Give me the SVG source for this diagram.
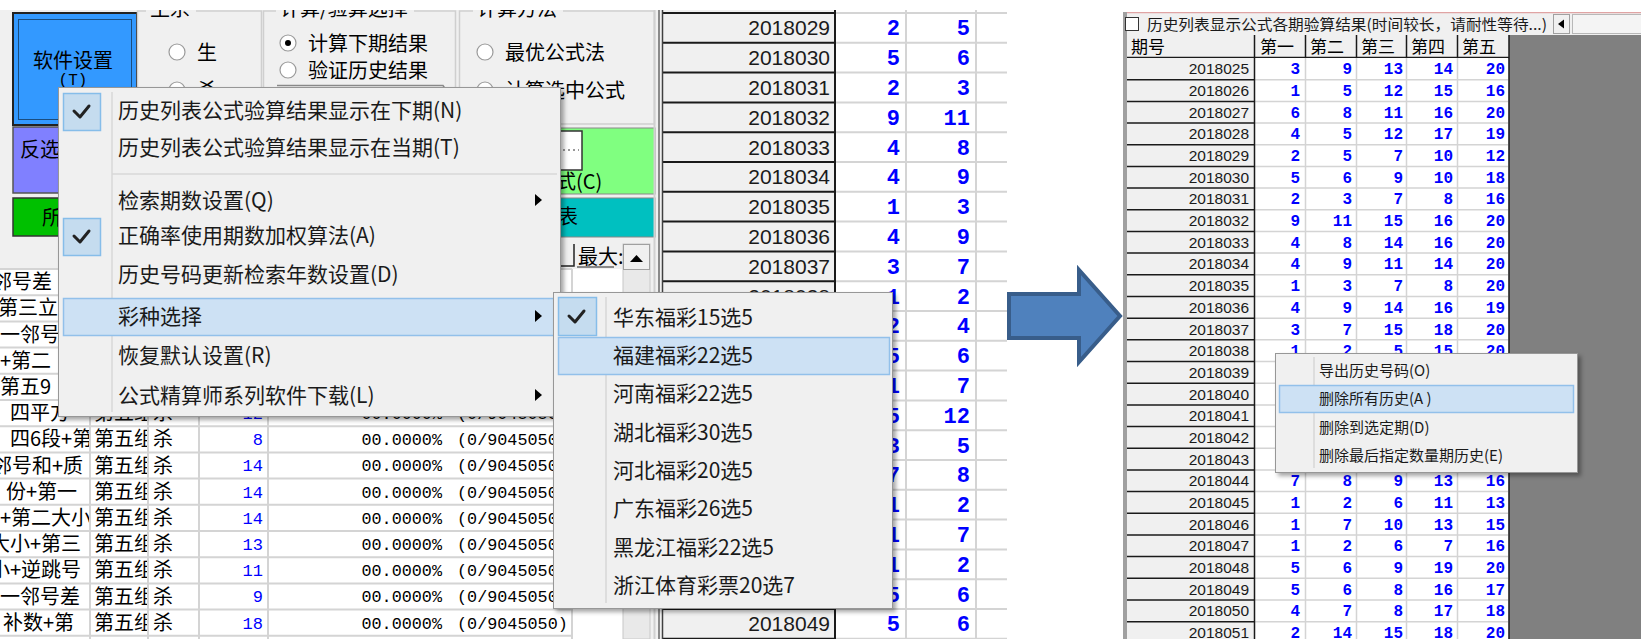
<svg xmlns="http://www.w3.org/2000/svg" width="1641" height="639" viewBox="0 0 1641 639">
<style>
.mi{font-family:"Noto Sans CJK SC","Noto Sans",sans-serif;font-size:21px;fill:#1a1a1a;}
.lt{font-family:"Noto Sans CJK SC","Noto Sans",sans-serif;font-size:20px;fill:#000;}
.cm{font-family:"Noto Sans CJK SC","Noto Sans",sans-serif;font-size:15px;fill:#1a1a1a;}
.hd{font-family:"Noto Sans CJK SC","Noto Sans",sans-serif;font-size:17px;fill:#000;}
.mono{font-family:"Liberation Mono",monospace;font-size:16.8px;fill:#000;}
.bn{font-family:"Liberation Mono",monospace;font-size:17px;fill:#0000ff;text-anchor:end;}
.id1{font-family:"Liberation Sans",sans-serif;font-size:21px;fill:#1a1a1a;text-anchor:end;}
.n1{font-family:"Liberation Mono",monospace;font-weight:bold;font-size:22px;fill:#0000ff;text-anchor:end;}
.id2{font-family:"Liberation Sans",sans-serif;font-size:15.5px;fill:#1a1a1a;text-anchor:end;}
.n2{font-family:"Liberation Mono",monospace;font-weight:bold;font-size:16px;fill:#0000ff;text-anchor:end;}
.grid{stroke:#d4d4d4;stroke-width:2;fill:none;}
.grid2{stroke:#d4d4d4;stroke-width:1.5;fill:none;}
.blk{stroke:#1a1a1a;stroke-width:2;fill:none;}
.menu{fill:#f0f0f0;stroke:#979797;stroke-width:1;}
.hl{fill:#cde1f4;stroke:#92c0ea;stroke-width:1.5;}
.chk{fill:#c5dcef;stroke:#86bde9;stroke-width:1.5;}
.tick{fill:none;stroke:#222;stroke-width:3;stroke-linecap:round;stroke-linejoin:round;}
.sep{stroke:#d7d7d7;stroke-width:1.5;}
.radio{fill:#fff;stroke:#9a9a9a;stroke-width:1.2;}
.gb{fill:none;stroke:#cfcfcf;stroke-width:1.5;}
.tri{fill:#000;}
</style>
<defs>
<filter id="sh" x="-5%" y="-5%" width="115%" height="115%"><feDropShadow dx="3" dy="3" stdDeviation="2" flood-color="#000" flood-opacity="0.35"/></filter>
<clipPath id="lp"><rect x="0" y="10" width="1007" height="629"/></clipPath>
<clipPath id="rp"><rect x="1123" y="12" width="518" height="627"/></clipPath>
<clipPath id="c1"><rect x="0" y="269" width="89" height="370"/></clipPath>
<clipPath id="c2"><rect x="91" y="269" width="56" height="370"/></clipPath>
</defs>
<rect width="1641" height="639" fill="#fff"/>

<g id="left-panel" clip-path="url(#lp)">
  <rect x="0" y="10" width="1007" height="629" fill="#f0f0f0"/>
  <g id="btn-settings">
    <rect x="13" y="13" width="124" height="112" fill="#3399ff" stroke="#222" stroke-width="2"/>
    <rect x="18.5" y="19.5" width="113" height="100" fill="none" stroke="#000" stroke-width="1" stroke-dasharray="1 1"/>
    <text class="lt" x="73" y="68" text-anchor="middle" font-size="21">软件设置</text>
    <text x="73" y="85" text-anchor="middle" style="font-family:'Liberation Mono',monospace;font-size:16px;fill:#000">(T)</text>
  </g>
  <g id="btn-invert">
    <rect x="13" y="127" width="70" height="66" fill="#8080ff" stroke="#555" stroke-width="1.5"/>
    <text class="lt" x="20" y="157">反选</text>
  </g>
  <g id="btn-all">
    <rect x="13" y="198" width="70" height="38" fill="#00c000" stroke="#333" stroke-width="1.5"/>
    <text class="lt" x="42" y="225">所</text>
  </g>
  <g id="group-shengsha">
    <rect class="gb" x="137.5" y="11" width="124" height="120"/>
    <rect x="146" y="4" width="50" height="10" fill="#f0f0f0"/>
    <text class="lt" x="150" y="16">生杀</text>
    <circle class="radio" cx="177" cy="52" r="8"/>
    <text class="lt" x="197" y="59.5">生</text>
    <circle class="radio" cx="177" cy="90" r="8"/>
    <text class="lt" x="197" y="97.5">杀</text>
  </g>
  <g id="group-calc-select">
    <rect class="gb" x="263.5" y="11" width="192" height="113"/>
    <rect x="276" y="4" width="138" height="10" fill="#f0f0f0"/>
    <text class="lt" x="280" y="16">计算/验算选择</text>
    <circle class="radio" cx="288" cy="43" r="8"/>
    <circle cx="288" cy="43" r="3" fill="#000"/>
    <text class="lt" x="308" y="50.5">计算下期结果</text>
    <circle class="radio" cx="288" cy="70" r="8"/>
    <text class="lt" x="308" y="77.5">验证历史结果</text>
    <path d="M277 85.5H443 l2 3" stroke="#8a8a8a" stroke-width="1.5" fill="none"/>
  </g>
  <g id="group-calc-method">
    <rect class="gb" x="459.5" y="11" width="195" height="113"/>
    <rect x="473" y="4" width="90" height="10" fill="#f0f0f0"/>
    <text class="lt" x="477" y="16">计算方法</text>
    <circle class="radio" cx="485" cy="52" r="8"/>
    <text class="lt" x="505" y="59.5">最优公式法</text>
    <circle class="radio" cx="485" cy="90" r="8"/>
    <text class="lt" x="505" y="97.5">计算选中公式</text>
  </g>
  <g id="btn-formula">
    <rect x="520" y="128" width="135" height="66" fill="#80ff80" stroke="#888" stroke-width="1"/>
    <rect x="540" y="131" width="42" height="39" fill="#fff" stroke="#333" stroke-width="1.5"/>
    <path d="M563 150H579" stroke="#333" stroke-width="1" stroke-dasharray="2 3"/>
    <text class="lt" x="556" y="189">式(C)</text>
  </g>
  <g id="btn-table">
    <rect x="520" y="198" width="135" height="39" fill="#00c0c0" stroke="#888" stroke-width="1"/>
    <text class="lt" x="558" y="224">表</text>
  </g>

  <g id="formula-table">
    <rect x="0" y="244" width="623" height="25" fill="#f0f0f0"/>
    <path d="M560 266H574V244" stroke="#222" stroke-width="1.5" fill="none"/>
    <text class="lt" x="578" y="264" font-size="19">最大:</text>
    <path d="M577 267H614" stroke="#222" stroke-width="1"/>
    <rect x="0" y="269" width="623" height="370" fill="#fff"/>
    <path class="grid" d="M0 269H572M0 295.2H572M0 321.4H572M0 347.6H572M0 373.8H572M0 400H572M0 426.2H572M0 452.4H572M0 478.6H572M0 504.8H572M0 531H572M0 557.2H572M0 583.4H572M0 609.6H572M0 635.8H572M90 269V639M148 269V639M199 269V639M268 269V639M572 269V639"/>
    <rect x="623" y="244" width="27" height="395" fill="#e9e9e9" stroke="#c8c8c8"/>
    <rect x="623.5" y="244.5" width="26" height="25" fill="#f0f0f0" stroke="#a0a0a0"/>
    <polygon class="tri" points="630,262 643,262 636.5,255"/>
    <g clip-path="url(#c1)">
      <text class="lt" x="-8" y="289.1">邻号差</text>
      <text class="lt" x="-2" y="315.3">第三立</text>
      <text class="lt" x="0" y="341.5">一邻号</text>
      <text class="lt" x="0" y="367.7">+第二</text>
      <text class="lt" x="0" y="393.9">第五9</text>
      <text class="lt" x="10" y="420.1">四平方</text>
      <text class="lt" x="10" y="446.3">四6段+第</text>
      <text class="lt" x="-8" y="472.5">邻号和+质</text>
      <text class="lt" x="6" y="498.7">份+第一</text>
      <text class="lt" x="0" y="524.9">+第二大小</text>
      <text class="lt" x="-10" y="551.1">大小+第三</text>
      <text class="lt" x="-10" y="577.3">小+逆跳号</text>
      <text class="lt" x="0" y="603.5">一邻号差</text>
      <text class="lt" x="3" y="629.7">补数+第</text>
    </g>
    <g clip-path="url(#c2)">
      <text class="lt"><tspan x="94" y="420.1">第五组</tspan><tspan x="94" y="446.3">第五组</tspan><tspan x="94" y="472.5">第五组</tspan><tspan x="94" y="498.7">第五组</tspan><tspan x="94" y="524.9">第五组</tspan><tspan x="94" y="551.1">第五组</tspan><tspan x="94" y="577.3">第五组</tspan><tspan x="94" y="603.5">第五组</tspan><tspan x="94" y="629.7">第五组</tspan></text>
    </g>
    <text class="lt"><tspan x="153" y="420.1">杀</tspan><tspan x="153" y="446.3">杀</tspan><tspan x="153" y="472.5">杀</tspan><tspan x="153" y="498.7">杀</tspan><tspan x="153" y="524.9">杀</tspan><tspan x="153" y="551.1">杀</tspan><tspan x="153" y="577.3">杀</tspan><tspan x="153" y="603.5">杀</tspan><tspan x="153" y="629.7">杀</tspan></text>
    <text class="bn"><tspan x="263" y="419">12</tspan><tspan x="263" y="445.2">8</tspan><tspan x="263" y="471.4">14</tspan><tspan x="263" y="497.6">14</tspan><tspan x="263" y="523.8">14</tspan><tspan x="263" y="550">13</tspan><tspan x="263" y="576.2">11</tspan><tspan x="263" y="602.4">9</tspan><tspan x="263" y="628.6">18</tspan></text>
    <text class="mono" text-anchor="end"><tspan x="442" y="419">00.0000%</tspan><tspan x="442" y="445.2">00.0000%</tspan><tspan x="442" y="471.4">00.0000%</tspan><tspan x="442" y="497.6">00.0000%</tspan><tspan x="442" y="523.8">00.0000%</tspan><tspan x="442" y="550">00.0000%</tspan><tspan x="442" y="576.2">00.0000%</tspan><tspan x="442" y="602.4">00.0000%</tspan><tspan x="442" y="628.6">00.0000%</tspan></text>
    <text class="mono"><tspan x="457" y="419">(0/9045050)</tspan><tspan x="457" y="445.2">(0/9045050)</tspan><tspan x="457" y="471.4">(0/9045050)</tspan><tspan x="457" y="497.6">(0/9045050)</tspan><tspan x="457" y="523.8">(0/9045050)</tspan><tspan x="457" y="550">(0/9045050)</tspan><tspan x="457" y="576.2">(0/9045050)</tspan><tspan x="457" y="602.4">(0/9045050)</tspan><tspan x="457" y="628.6">(0/9045050)</tspan></text>
  </g>

  <g id="history-table-left">
    <path d="M654.5 10V639" stroke="#d0d0d0" stroke-width="2"/>
    <path d="M659 10V639" stroke="#8a8a8a" stroke-width="2"/>
    <rect x="662" y="10" width="173" height="629" fill="#f0f0f0"/>
    <rect x="835" y="10" width="172" height="629" fill="#fff"/>
    <path class="grid" d="M835 13H1007M835 42.8H1007M835 72.6H1007M835 102.4H1007M835 132.2H1007M835 162H1007M835 191.8H1007M835 221.6H1007M835 251.4H1007M835 281.2H1007M835 311H1007M835 340.8H1007M835 370.6H1007M835 400.4H1007M835 430.2H1007M835 460H1007M835 489.8H1007M835 519.6H1007M835 549.4H1007M835 579.2H1007M835 609H1007M835 638.8H1007M906 10V639M976 10V639"/>
    <path class="blk" d="M663 13H835M663 42.8H835M663 72.6H835M663 102.4H835M663 132.2H835M663 162H835M663 191.8H835M663 221.6H835M663 251.4H835M663 281.2H835M663 311H835M663 340.8H835M663 370.6H835M663 400.4H835M663 430.2H835M663 460H835M663 489.8H835M663 519.6H835M663 549.4H835M663 579.2H835M663 609H835M663 638.8H835M835 10V639"/>
    <path d="M662.5 10V639" stroke="#404040" stroke-width="1.5"/>
    <text class="id1"><tspan x="830" y="35.4">2018029</tspan><tspan x="830" y="65.2">2018030</tspan><tspan x="830" y="95">2018031</tspan><tspan x="830" y="124.8">2018032</tspan><tspan x="830" y="154.6">2018033</tspan><tspan x="830" y="184.4">2018034</tspan><tspan x="830" y="214.2">2018035</tspan><tspan x="830" y="244">2018036</tspan><tspan x="830" y="273.8">2018037</tspan><tspan x="830" y="303.6">2018038</tspan><tspan x="830" y="333.4">2018039</tspan><tspan x="830" y="363.2">2018040</tspan><tspan x="830" y="393">2018041</tspan><tspan x="830" y="422.8">2018042</tspan><tspan x="830" y="452.6">2018043</tspan><tspan x="830" y="482.4">2018044</tspan><tspan x="830" y="512.2">2018045</tspan><tspan x="830" y="542">2018046</tspan><tspan x="830" y="571.8">2018047</tspan><tspan x="830" y="601.6">2018048</tspan><tspan x="830" y="631.4">2018049</tspan></text>
    <text class="n1"><tspan x="900" y="35.4">2</tspan><tspan x="900" y="65.2">5</tspan><tspan x="900" y="95">2</tspan><tspan x="900" y="124.8">9</tspan><tspan x="900" y="154.6">4</tspan><tspan x="900" y="184.4">4</tspan><tspan x="900" y="214.2">1</tspan><tspan x="900" y="244">4</tspan><tspan x="900" y="273.8">3</tspan><tspan x="900" y="303.6">1</tspan><tspan x="900" y="333.4">2</tspan><tspan x="900" y="363.2">5</tspan><tspan x="900" y="393">1</tspan><tspan x="900" y="422.8">5</tspan><tspan x="900" y="452.6">3</tspan><tspan x="900" y="482.4">7</tspan><tspan x="900" y="512.2">1</tspan><tspan x="900" y="542">1</tspan><tspan x="900" y="571.8">1</tspan><tspan x="900" y="601.6">5</tspan><tspan x="900" y="631.4">5</tspan></text>
    <text class="n1"><tspan x="970" y="35.4">5</tspan><tspan x="970" y="65.2">6</tspan><tspan x="970" y="95">3</tspan><tspan x="970" y="124.8">11</tspan><tspan x="970" y="154.6">8</tspan><tspan x="970" y="184.4">9</tspan><tspan x="970" y="214.2">3</tspan><tspan x="970" y="244">9</tspan><tspan x="970" y="273.8">7</tspan><tspan x="970" y="303.6">2</tspan><tspan x="970" y="333.4">4</tspan><tspan x="970" y="363.2">6</tspan><tspan x="970" y="393">7</tspan><tspan x="970" y="422.8">12</tspan><tspan x="970" y="452.6">5</tspan><tspan x="970" y="482.4">8</tspan><tspan x="970" y="512.2">2</tspan><tspan x="970" y="542">7</tspan><tspan x="970" y="571.8">2</tspan><tspan x="970" y="601.6">6</tspan><tspan x="970" y="631.4">6</tspan></text>
  </g>

  <g id="main-menu">
    <rect class="menu" x="58.5" y="87.5" width="502" height="329" filter="url(#sh)"/>
    <path class="sep" d="M112 92V412M112 174H557"/>
    <rect class="chk" x="63.5" y="93.5" width="37" height="37"/>
    <path class="tick" d="M74 111L80 117L89 106"/>
    <rect class="chk" x="63.5" y="218.5" width="37" height="37"/>
    <path class="tick" d="M74 236L80 242L89 231"/>
    <rect class="hl" x="63.5" y="298.5" width="491" height="37"/>
    <text class="mi" x="118" y="117.5">历史列表公式验算结果显示在下期(N)</text>
    <text class="mi" x="118" y="155">历史列表公式验算结果显示在当期(T)</text>
    <text class="mi" x="118" y="207.5">检索期数设置(Q)</text>
    <text class="mi" x="118" y="243">正确率使用期数加权算法(A)</text>
    <text class="mi" x="118" y="282">历史号码更新检索年数设置(D)</text>
    <text class="mi" x="118" y="324">彩种选择</text>
    <text class="mi" x="118" y="362.5">恢复默认设置(R)</text>
    <text class="mi" x="118" y="402.5">公式精算师系列软件下载(L)</text>
    <polygon class="tri" points="535,194 542,200 535,206"/>
    <polygon class="tri" points="535,310 542,316 535,322"/>
    <polygon class="tri" points="535,389 542,395 535,401"/>
  </g>

  <g id="lottery-submenu">
    <rect class="menu" x="553.5" y="292.5" width="339" height="316" filter="url(#sh)"/>
    <path class="sep" d="M606 297V603"/>
    <rect class="chk" x="558.5" y="297.5" width="38" height="38"/>
    <path class="tick" d="M569 316L575 322L584 311"/>
    <rect class="hl" x="558.5" y="337.5" width="331" height="37"/>
    <text class="mi" x="613" y="324.5">华东福彩15选5</text>
    <text class="mi" x="613" y="362.5">福建福彩22选5</text>
    <text class="mi" x="613" y="400.5">河南福彩22选5</text>
    <text class="mi" x="613" y="439.5">湖北福彩30选5</text>
    <text class="mi" x="613" y="477.5">河北福彩20选5</text>
    <text class="mi" x="613" y="515.5">广东福彩26选5</text>
    <text class="mi" x="613" y="554.5">黑龙江福彩22选5</text>
    <text class="mi" x="613" y="592.5">浙江体育彩票20选7</text>
  </g>
</g>

<g id="connectors">
  <polygon points="1009,294 1079,294 1079,270 1120,316 1079,362 1079,338 1009,338" fill="#4f81bd" stroke="#385d8a" stroke-width="4" stroke-linejoin="miter"/>
</g>

<g id="right-panel" clip-path="url(#rp)">
  <rect x="1123" y="12" width="518" height="627" fill="#f0f0f0"/>
  <path d="M1123 12.5H1641" stroke="#e0a4a4" stroke-width="1.5"/>
  <rect x="1123" y="12" width="4" height="627" fill="#a0a0a0"/>
  <g id="option-row">
    <rect x="1125.5" y="17.5" width="13" height="13" fill="#fff" stroke="#333" stroke-width="1"/>
    <text class="cm" x="1147" y="30" font-size="16" textLength="400" lengthAdjust="spacingAndGlyphs">历史列表显示公式各期验算结果(时间较长，请耐性等待...)</text>
    <rect x="1553.5" y="14.5" width="16" height="19" fill="#f0f0f0" stroke="#a0a0a0"/>
    <polygon class="tri" points="1558,24 1564,19.5 1564,28.5"/>
    <rect x="1572.5" y="14.5" width="70" height="19" fill="#f4f4f4" stroke="#b8b8b8"/>
  </g>
  <g id="history-table-right">
    <rect x="1509" y="35" width="132" height="604" fill="#808080"/>
    <rect x="1127" y="35" width="382" height="23" fill="#f0f0f0"/>
    <path d="M1127 57.5H1509M1254.5 35V58M1305.5 35V58M1356.5 35V58M1406.5 35V58M1457.5 35V58M1509 35V639" stroke="#1a1a1a" stroke-width="1.5" fill="none"/>
    <text class="hd" x="1131" y="53">期号</text>
    <text class="hd" x="1260" y="53">第一</text>
    <text class="hd" x="1310" y="53">第二</text>
    <text class="hd" x="1361" y="53">第三</text>
    <text class="hd" x="1411" y="53">第四</text>
    <text class="hd" x="1462" y="53">第五</text>
    <rect x="1127" y="58" width="127" height="581" fill="#f0f0f0"/>
    <rect x="1255" y="58" width="253" height="581" fill="#fff"/>
    <path class="grid2" d="M1255 79.7H1508M1255 101.4H1508M1255 123H1508M1255 144.7H1508M1255 166.4H1508M1255 188.1H1508M1255 209.8H1508M1255 231.4H1508M1255 253.1H1508M1255 274.8H1508M1255 296.5H1508M1255 318.2H1508M1255 339.8H1508M1255 361.5H1508M1255 383.2H1508M1255 404.9H1508M1255 426.6H1508M1255 448.2H1508M1255 469.9H1508M1255 491.6H1508M1255 513.3H1508M1255 535H1508M1255 556.6H1508M1255 578.3H1508M1255 600H1508M1255 621.7H1508M1305.5 58V639M1356.5 58V639M1406.5 58V639M1457.5 58V639"/>
    <path d="M1127 79.7H1254M1127 101.4H1254M1127 123H1254M1127 144.7H1254M1127 166.4H1254M1127 188.1H1254M1127 209.8H1254M1127 231.4H1254M1127 253.1H1254M1127 274.8H1254M1127 296.5H1254M1127 318.2H1254M1127 339.8H1254M1127 361.5H1254M1127 383.2H1254M1127 404.9H1254M1127 426.6H1254M1127 448.2H1254M1127 469.9H1254M1127 491.6H1254M1127 513.3H1254M1127 535H1254M1127 556.6H1254M1127 578.3H1254M1127 600H1254M1127 621.7H1254M1254.5 58V639" stroke="#1a1a1a" stroke-width="1.5" fill="none"/>
    <text class="id2"><tspan x="1249" y="74.3">2018025</tspan><tspan x="1249" y="96">2018026</tspan><tspan x="1249" y="117.7">2018027</tspan><tspan x="1249" y="139.3">2018028</tspan><tspan x="1249" y="161">2018029</tspan><tspan x="1249" y="182.7">2018030</tspan><tspan x="1249" y="204.4">2018031</tspan><tspan x="1249" y="226.1">2018032</tspan><tspan x="1249" y="247.7">2018033</tspan><tspan x="1249" y="269.4">2018034</tspan><tspan x="1249" y="291.1">2018035</tspan><tspan x="1249" y="312.8">2018036</tspan><tspan x="1249" y="334.5">2018037</tspan><tspan x="1249" y="356.1">2018038</tspan><tspan x="1249" y="377.8">2018039</tspan><tspan x="1249" y="399.5">2018040</tspan><tspan x="1249" y="421.2">2018041</tspan><tspan x="1249" y="442.9">2018042</tspan><tspan x="1249" y="464.5">2018043</tspan><tspan x="1249" y="486.2">2018044</tspan><tspan x="1249" y="507.9">2018045</tspan><tspan x="1249" y="529.6">2018046</tspan><tspan x="1249" y="551.3">2018047</tspan><tspan x="1249" y="572.9">2018048</tspan><tspan x="1249" y="594.6">2018049</tspan><tspan x="1249" y="616.3">2018050</tspan><tspan x="1249" y="638">2018051</tspan></text>
    <text class="n2"><tspan x="1300" y="74.3">3</tspan><tspan x="1300" y="96">1</tspan><tspan x="1300" y="117.7">6</tspan><tspan x="1300" y="139.3">4</tspan><tspan x="1300" y="161">2</tspan><tspan x="1300" y="182.7">5</tspan><tspan x="1300" y="204.4">2</tspan><tspan x="1300" y="226.1">9</tspan><tspan x="1300" y="247.7">4</tspan><tspan x="1300" y="269.4">4</tspan><tspan x="1300" y="291.1">1</tspan><tspan x="1300" y="312.8">4</tspan><tspan x="1300" y="334.5">3</tspan><tspan x="1300" y="356.1">1</tspan><tspan x="1300" y="486.2">7</tspan><tspan x="1300" y="507.9">1</tspan><tspan x="1300" y="529.6">1</tspan><tspan x="1300" y="551.3">1</tspan><tspan x="1300" y="572.9">5</tspan><tspan x="1300" y="594.6">5</tspan><tspan x="1300" y="616.3">4</tspan><tspan x="1300" y="638">2</tspan></text>
    <text class="n2"><tspan x="1352" y="74.3">9</tspan><tspan x="1352" y="96">5</tspan><tspan x="1352" y="117.7">8</tspan><tspan x="1352" y="139.3">5</tspan><tspan x="1352" y="161">5</tspan><tspan x="1352" y="182.7">6</tspan><tspan x="1352" y="204.4">3</tspan><tspan x="1352" y="226.1">11</tspan><tspan x="1352" y="247.7">8</tspan><tspan x="1352" y="269.4">9</tspan><tspan x="1352" y="291.1">3</tspan><tspan x="1352" y="312.8">9</tspan><tspan x="1352" y="334.5">7</tspan><tspan x="1352" y="356.1">2</tspan><tspan x="1352" y="486.2">8</tspan><tspan x="1352" y="507.9">2</tspan><tspan x="1352" y="529.6">7</tspan><tspan x="1352" y="551.3">2</tspan><tspan x="1352" y="572.9">6</tspan><tspan x="1352" y="594.6">6</tspan><tspan x="1352" y="616.3">7</tspan><tspan x="1352" y="638">14</tspan></text>
    <text class="n2"><tspan x="1403" y="74.3">13</tspan><tspan x="1403" y="96">12</tspan><tspan x="1403" y="117.7">11</tspan><tspan x="1403" y="139.3">12</tspan><tspan x="1403" y="161">7</tspan><tspan x="1403" y="182.7">9</tspan><tspan x="1403" y="204.4">7</tspan><tspan x="1403" y="226.1">15</tspan><tspan x="1403" y="247.7">14</tspan><tspan x="1403" y="269.4">11</tspan><tspan x="1403" y="291.1">7</tspan><tspan x="1403" y="312.8">14</tspan><tspan x="1403" y="334.5">15</tspan><tspan x="1403" y="356.1">5</tspan><tspan x="1403" y="486.2">9</tspan><tspan x="1403" y="507.9">6</tspan><tspan x="1403" y="529.6">10</tspan><tspan x="1403" y="551.3">6</tspan><tspan x="1403" y="572.9">9</tspan><tspan x="1403" y="594.6">8</tspan><tspan x="1403" y="616.3">8</tspan><tspan x="1403" y="638">15</tspan></text>
    <text class="n2"><tspan x="1453" y="74.3">14</tspan><tspan x="1453" y="96">15</tspan><tspan x="1453" y="117.7">16</tspan><tspan x="1453" y="139.3">17</tspan><tspan x="1453" y="161">10</tspan><tspan x="1453" y="182.7">10</tspan><tspan x="1453" y="204.4">8</tspan><tspan x="1453" y="226.1">16</tspan><tspan x="1453" y="247.7">16</tspan><tspan x="1453" y="269.4">14</tspan><tspan x="1453" y="291.1">8</tspan><tspan x="1453" y="312.8">16</tspan><tspan x="1453" y="334.5">18</tspan><tspan x="1453" y="356.1">15</tspan><tspan x="1453" y="486.2">13</tspan><tspan x="1453" y="507.9">11</tspan><tspan x="1453" y="529.6">13</tspan><tspan x="1453" y="551.3">7</tspan><tspan x="1453" y="572.9">19</tspan><tspan x="1453" y="594.6">16</tspan><tspan x="1453" y="616.3">17</tspan><tspan x="1453" y="638">18</tspan></text>
    <text class="n2"><tspan x="1505" y="74.3">20</tspan><tspan x="1505" y="96">16</tspan><tspan x="1505" y="117.7">20</tspan><tspan x="1505" y="139.3">19</tspan><tspan x="1505" y="161">12</tspan><tspan x="1505" y="182.7">18</tspan><tspan x="1505" y="204.4">16</tspan><tspan x="1505" y="226.1">20</tspan><tspan x="1505" y="247.7">20</tspan><tspan x="1505" y="269.4">20</tspan><tspan x="1505" y="291.1">20</tspan><tspan x="1505" y="312.8">19</tspan><tspan x="1505" y="334.5">20</tspan><tspan x="1505" y="356.1">20</tspan><tspan x="1505" y="486.2">16</tspan><tspan x="1505" y="507.9">13</tspan><tspan x="1505" y="529.6">15</tspan><tspan x="1505" y="551.3">16</tspan><tspan x="1505" y="572.9">20</tspan><tspan x="1505" y="594.6">17</tspan><tspan x="1505" y="616.3">18</tspan><tspan x="1505" y="638">20</tspan></text>
  </g>
  <g id="history-context-menu">
    <rect class="menu" x="1275.5" y="353.5" width="302" height="119" filter="url(#sh)"/>
    <path class="sep" d="M1314 357V468"/>
    <rect class="hl" x="1279.5" y="385.5" width="294" height="27"/>
    <text class="cm" x="1319" y="375.5">导出历史号码(O)</text>
    <text class="cm" x="1319" y="403.5">删除所有历史(A )</text>
    <text class="cm" x="1319" y="432.5">删除到选定期(D)</text>
    <text class="cm" x="1319" y="460.5">删除最后指定数量期历史(E)</text>
  </g>
</g>
</svg>
